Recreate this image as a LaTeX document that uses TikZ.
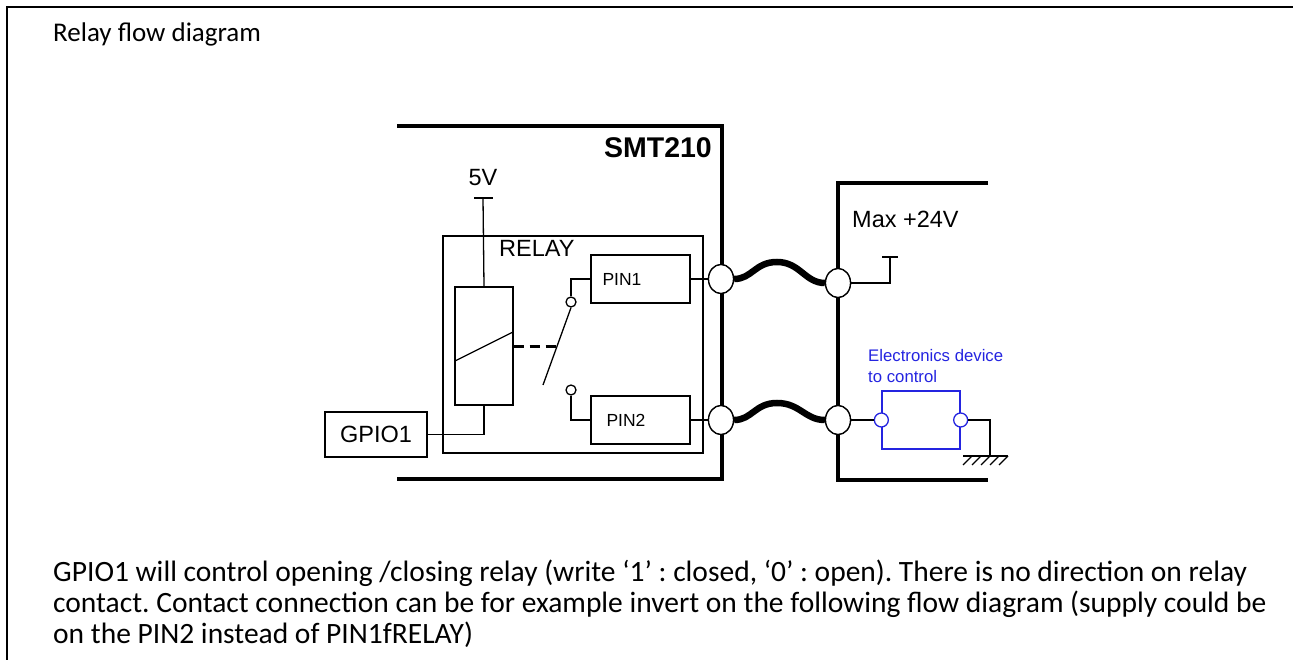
\documentclass[tikz,border=0pt]{standalone}
\usepackage{fontspec}
\setmainfont{Carlito}
\newfontfamily\arialfont{Liberation Sans}
\usetikzlibrary{shapes.geometric, positioning}
\frenchspacing
\definecolor{devblue}{HTML}{2424E0}
\tikzstyle{wire} = [line width=1.3]
\tikzstyle{bus} = [line width=4.5]
\tikzstyle{cable} = [line width=6.5]
\tikzstyle{label} = [inner sep=0, font=\arialfont\fontsize{23.5}{26}\selectfont]
\tikzstyle{pinbox} = [rectangle, draw, wire, minimum width=99, minimum height=48, inner sep=0]
\tikzstyle{pintext} = [inner sep=0, font=\arialfont\fontsize{17.5}{20}\selectfont]
\tikzstyle{term} = [ellipse, draw, wire, fill=white, minimum width=25, minimum height=29, inner sep=0]
\tikzstyle{contact} = [circle, draw, wire, fill=white, minimum size=10, inner sep=0]
\tikzstyle{devterm} = [circle, draw=devblue, wire, fill=white, minimum size=14, inner sep=0]

\begin{document}
\begin{tikzpicture}[x=1pt, y=-1pt]
  \useasboundingbox (0,0) rectangle (1293,660);
  % page frame
  \draw [line width=2] (6,7) -- (1293,7);
  \draw [line width=1.5] (7,7) -- (7,660);
  \node [anchor=base west, inner sep=0, font=\fontsize{27}{28}\selectfont] (title) at (53,42) {Relay flow diagram};
  % board outlines
  \draw [bus] (397,126) -- (722,126) -- (722,479) -- (397,479);
  \draw [bus] (988,183) -- (838,183) -- (838,480) -- (988,480);
  \node [anchor=base east, inner sep=0, font=\arialfont\bfseries\fontsize{28.5}{30}\selectfont] (smt) at (712,158) {SMT210};
  % relay
  \node (relay) [rectangle, draw, wire, minimum width=260, minimum height=217] at (573,344.5) {};
  \node (rlabel) [label, anchor=base west] at (499,257) {RELAY};
  \node (coil) [rectangle, draw, wire, minimum width=58, minimum height=118] at (484,346) {};
  \draw [wire] (455,361) -- (513,332);
  \node (pin1) [pinbox] at (640.5,279) {};
  \node (pin2) [pinbox] at (640.5,420) {};
  \node (p1txt) [pintext, right=12 of pin1.west] {PIN1};
  \node (p2txt) [pintext, right=16 of pin2.west] {PIN2};
  \node (c1) [contact] at (571,302) {};
  \node (c2) [contact] at (571,390) {};
  \draw [wire] (543,385) -- (c1.south);
  \draw [line width=3, dash pattern=on 10 off 6] (coil.east) -- (557,346);
  \draw [wire] (c1.north) |- (pin1.west);
  \draw [wire] (c2.south) |- (pin2.west);
  % supply and gpio
  \node (v5) [label, anchor=base] at (483,186) {5V};
  \coordinate (v5bar) at (483,198);
  \draw [wire] (474,198) -- (493,198);
  \draw [wire] (v5bar) -- (coil.north);
  \node (gpio) [rectangle, draw, wire, minimum width=102, minimum height=45, label] at (376,434.5) {GPIO1};
  \draw [wire] (coil.south) |- (gpio.east);
  % terminals and cables
  \node (ta) [term] at (721,279) {};
  \node (tb) [term] at (721,420) {};
  \node (tc) [term] at (838,283) {};
  \node (td) [term] at (838,420) {};
  \draw [wire] (pin1.east) -- (ta.west);
  \draw [wire] (pin2.east) -- (tb.west);
  \draw [cable] (ta.east) .. controls (752,279) and (755,262) .. (777,262) .. controls (800,262) and (805,283) .. (tc.west);
  \draw [cable] (tb.east) .. controls (752,420) and (755,403) .. (777,403) .. controls (800,403) and (805,420) .. (td.west);
  \node (ta) [term] at (721,279) {};
  \node (tb) [term] at (721,420) {};
  \node (tc) [term] at (838,283) {};
  \node (td) [term] at (838,420) {};
  % external side
  \node (vmax) [label, anchor=base west] at (852,228) {Max +24V};
  \coordinate (vtop) at (890,257);
  \draw [wire] (882,257) -- (898,257);
  \draw [wire] (tc.east) -| (vtop);
  \node (dev) [rectangle, draw=devblue, wire, minimum width=78, minimum height=58] at (921,420) {};
  \node (devtxt) [anchor=base west, inner sep=0, align=left, text=devblue, font=\arialfont\fontsize{16.75}{21}\selectfont] at (868,382) {Electronics device\\to control};
  \node (d1) [devterm] at (dev.west) {};
  \node (d2) [devterm] at (dev.east) {};
  \draw [wire] (td.east) -- (d1.west);
  \coordinate (gnd) at (990,456);
  \draw [wire] (d2.east) -| (gnd);
  \draw [wire] (963,456) -- (1008,456);
  \foreach \x in {972,981,990,999,1008}
    \draw [wire] (\x,456) -- ++(-9,9);
  % notes
  \node (note) [anchor=base west, inner sep=0, align=left, font=\fontsize{29.5}{31}\selectfont] at (53,643) {GPIO1 will control opening /closing relay (write ‘1’ : closed, ‘0’ : open). There is no direction on relay\\contact. Contact connection can be for example invert on the following flow diagram (supply could be\\on the PIN2 instead of PIN1fRELAY)};
\end{tikzpicture}
\end{document}
